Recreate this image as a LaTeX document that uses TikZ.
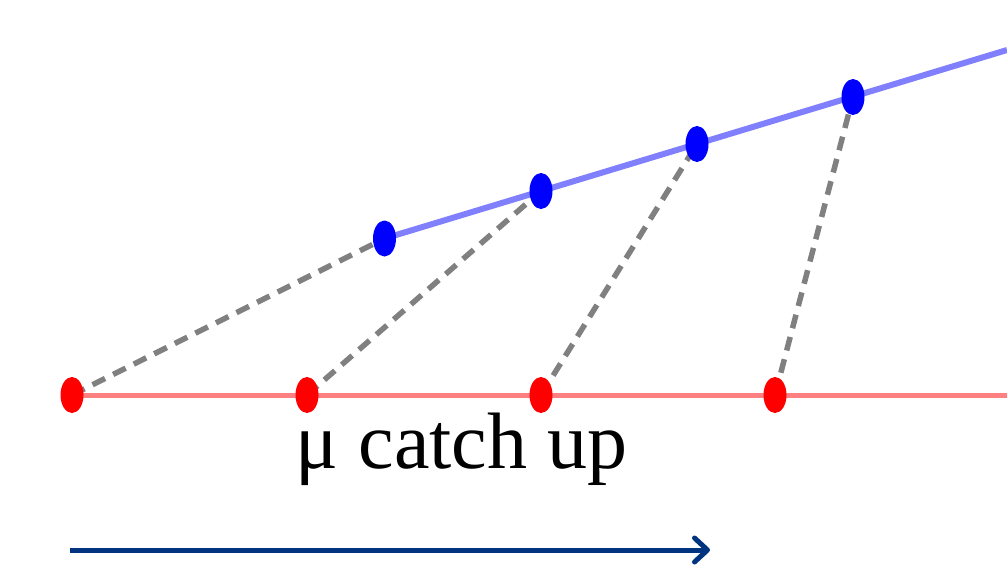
\documentclass[tikz,border=0pt]{standalone}
\usepackage{fontspec}
\setmainfont{Liberation Serif}
\usepackage{tikz}
\usetikzlibrary{shapes.geometric, arrows.meta}

\definecolor{arrowblue}{RGB}{0,51,128}

\begin{document}
\begin{tikzpicture}[x=1pt, y=-1pt,
    dot/.style={ellipse, inner sep=0pt, minimum width=23pt, minimum height=36pt},
    link/.style={draw=gray, line width=5.5pt, dash pattern=on 14pt off 9pt}]
    \useasboundingbox (0,0) rectangle (1007,573);

    % points on the two lines
    \coordinate (r1) at (72,395);
    \coordinate (r2) at (307,395);
    \coordinate (r3) at (541,395);
    \coordinate (r4) at (775,395);
    \coordinate (rend) at (1007,395);
    \coordinate (b1) at (384.5,238.5);
    \coordinate (b2) at (541,191);
    \coordinate (b3) at (697,144);
    \coordinate (b4) at (853,97);
    \coordinate (bend) at (1007,50);

    \draw[red!50, line width=5pt] (r1) -- (rend);
    \draw[blue!50, line width=6pt] (b1) -- (bend);
    \path[link] (r1) -- (b1)
                (r2) -- (b2)
                (r3) -- (b3)
                (r4) -- (b4);

    \node[dot, fill=red]  (p1) at (r1) {};
    \node[dot, fill=red]  (p2) at (r2) {};
    \node[dot, fill=red]  (p3) at (r3) {};
    \node[dot, fill=red]  (p4) at (r4) {};
    \node[dot, fill=blue] (q1) at (b1) {};
    \node[dot, fill=blue] (q2) at (b2) {};
    \node[dot, fill=blue] (q3) at (b3) {};
    \node[dot, fill=blue] (q4) at (b4) {};

    \node[inner sep=0pt, anchor=base] (label) at (461.5,468) {\fontsize{80}{96}\selectfont μ catch up};

    \coordinate (a0) at (70,550);
    \coordinate (a1) at (710,550);
    \draw[arrowblue, line width=5pt, -{Straight Barb[length=13pt, width=24pt, line join=round, line cap=round]}] (a0) -- (a1);
\end{tikzpicture}
\end{document}
